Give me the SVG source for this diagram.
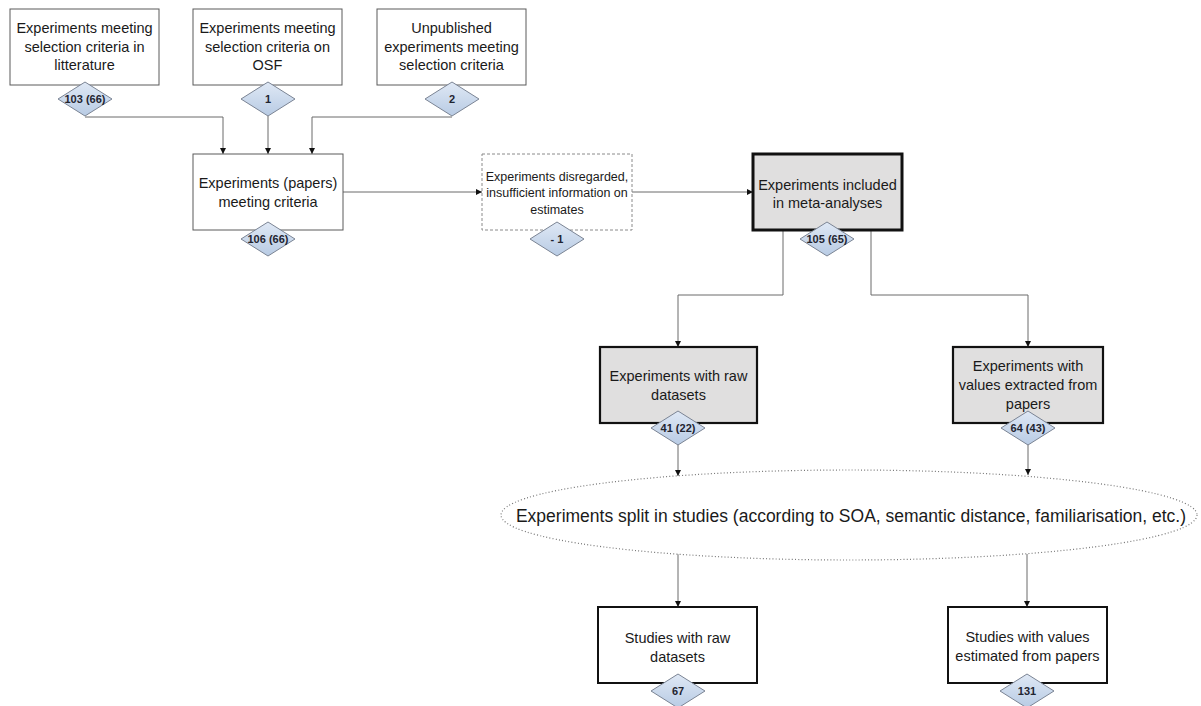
<svg xmlns="http://www.w3.org/2000/svg" xmlns:xlink="http://www.w3.org/1999/xlink" width="1201" height="706" viewBox="0 0 1201 706">
<defs>
<linearGradient id="dg" x1="0" y1="0" x2="0" y2="1">
<stop offset="0" stop-color="#dfe8f5"/>
<stop offset="1" stop-color="#b8cbe4"/>
</linearGradient>
<polygon id="dia" points="0,-17 27,0 0,17 -27,0" fill="url(#dg)" stroke="#7b8494" stroke-width="1"/>
<marker id="ah" markerUnits="userSpaceOnUse" markerWidth="8" markerHeight="8" refX="6" refY="3" orient="auto">
<path d="M0,0 L6,3 L0,6 Z" fill="#111"/>
</marker>
</defs>
<style>
text{font-family:"Liberation Sans",Arial,sans-serif;fill:#1a1a1a;text-anchor:middle}
.t{font-size:14.5px}
.s{font-size:12.5px}
.b{font-size:17.5px}
.d{font-size:11px;font-weight:bold;fill:#1f2430}
.thin{fill:#fff;stroke:#5a5a5a;stroke-width:1}
.dash{fill:#fff;stroke:#8a8a8a;stroke-width:1;stroke-dasharray:3,2}
.grey{fill:#e0dfdf;stroke:#111;stroke-width:2.2}
.heavy{fill:#e0dfdf;stroke:#111;stroke-width:3}
.wb{fill:#fff;stroke:#111;stroke-width:2}
.c{fill:none;stroke:#6a6a6a;stroke-width:1;marker-end:url(#ah)}
</style>
<rect width="1201" height="706" fill="#fff"/>

<g id="connectors">
<path class="c" d="M85,117 H223 V154"/>
<path class="c" d="M268,116 V154"/>
<path class="c" d="M452,117 H312 V154"/>
<path class="c" d="M343,192 H482"/>
<path class="c" d="M632,192 H753"/>
<path class="c" d="M783,230 V295 H678 V347"/>
<path class="c" d="M871,230 V295 H1028 V347"/>
<path class="c" d="M678,444 V476"/>
<path class="c" d="M1028,444 V475"/>
<path class="c" d="M678,554 V607"/>
<path class="c" d="M1027,554 V607"/>
</g>

<g id="n1">
<rect class="thin" x="10" y="9" width="149" height="76"/>
<text class="t" x="84.5" y="33">Experiments meeting</text>
<text class="t" x="84.5" y="52">selection criteria in</text>
<text class="t" x="84.5" y="70">litterature</text>
<use xlink:href="#dia" x="85" y="99"/>
<text class="d" x="85" y="103">103 (66)</text>
</g>

<g id="n2">
<rect class="thin" x="193" y="9" width="149" height="76"/>
<text class="t" x="267.5" y="33">Experiments meeting</text>
<text class="t" x="267.5" y="52">selection criteria on</text>
<text class="t" x="267.5" y="70">OSF</text>
<use xlink:href="#dia" x="268" y="99"/>
<text class="d" x="268" y="103">1</text>
</g>

<g id="n3">
<rect class="thin" x="377" y="9" width="149" height="76"/>
<text class="t" x="451.5" y="33">Unpublished</text>
<text class="t" x="451.5" y="52">experiments meeting</text>
<text class="t" x="451.5" y="70">selection criteria</text>
<use xlink:href="#dia" x="452" y="99"/>
<text class="d" x="452" y="103">2</text>
</g>

<g id="n4">
<rect class="thin" x="193" y="154" width="150" height="76"/>
<text class="t" x="268" y="188">Experiments (papers)</text>
<text class="t" x="268" y="207">meeting criteria</text>
<use xlink:href="#dia" x="268" y="239"/>
<text class="d" x="268" y="243">106 (66)</text>
</g>

<g id="n5">
<rect class="dash" x="482" y="154" width="150" height="76"/>
<text class="s" x="557" y="180.5">Experiments disregarded,</text>
<text class="s" x="557" y="197">insufficient information on</text>
<text class="s" x="557" y="213.5">estimates</text>
<use xlink:href="#dia" x="557" y="239"/>
<text class="d" x="557" y="243">- 1</text>
</g>

<g id="n6">
<rect class="heavy" x="753" y="154" width="149" height="76"/>
<text class="t" x="827.5" y="190">Experiments included</text>
<text class="t" x="827.5" y="208">in meta-analyses</text>
<use xlink:href="#dia" x="827" y="239"/>
<text class="d" x="827" y="243">105 (65)</text>
</g>

<g id="n7">
<rect class="grey" x="600" y="347" width="157" height="76"/>
<text class="t" x="678.5" y="381">Experiments with raw</text>
<text class="t" x="678.5" y="400">datasets</text>
<use xlink:href="#dia" x="678" y="428"/>
<text class="d" x="678" y="432">41 (22)</text>
</g>

<g id="n8">
<rect class="grey" x="953" y="347" width="150" height="76"/>
<text class="t" x="1028" y="371">Experiments with</text>
<text class="t" x="1028" y="390">values extracted from</text>
<text class="t" x="1028" y="409">papers</text>
<use xlink:href="#dia" x="1028" y="428"/>
<text class="d" x="1028" y="432">64 (43)</text>
</g>

<g id="n9">
<ellipse cx="849" cy="515" rx="348" ry="45" fill="#fff" stroke="#777" stroke-width="1.2" stroke-dasharray="1,2.2"/>
<text class="b" x="851" y="522">Experiments split in studies (according to SOA, semantic distance, familiarisation, etc.)</text>
</g>

<g id="n10">
<rect class="wb" x="598" y="607" width="159" height="76"/>
<text class="t" x="677.5" y="643">Studies with raw</text>
<text class="t" x="677.5" y="662">datasets</text>
<use xlink:href="#dia" x="678" y="691"/>
<text class="d" x="678" y="695">67</text>
</g>

<g id="n11">
<rect class="wb" x="948" y="607" width="159" height="76"/>
<text class="t" x="1027.5" y="642">Studies with values</text>
<text class="t" x="1027.5" y="661">estimated from papers</text>
<use xlink:href="#dia" x="1027" y="691"/>
<text class="d" x="1027" y="695">131</text>
</g>
</svg>
